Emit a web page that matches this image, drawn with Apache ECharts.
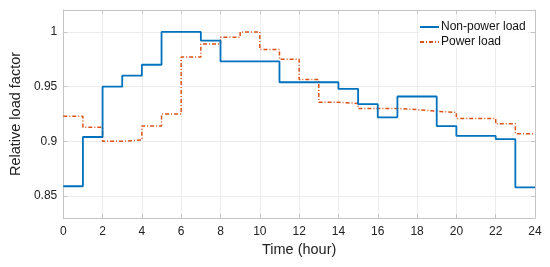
<!DOCTYPE html>
<html>
<head>
<meta charset="utf-8">
<script src="https://cdn.jsdelivr.net/npm/echarts@6/dist/echarts.min.js"></script>
<style>html,body{margin:0;padding:0;background:#fff}#c{width:550px;height:267px}</style>
</head>
<body>
<div id="c"></div>
<script>
var hours = [0,1,2,3,4,5,6,7,8,9,10,11,12,13,14,15,16,17,18,19,20,21,22,23,24];
var nonPowerLoad = [0.859,0.904,0.950,0.960,0.970,1.000,1.000,0.992,0.973,0.973,0.973,0.954,0.954,0.954,0.948,0.934,0.922,0.941,0.941,0.914,0.905,0.905,0.902,0.858];
var powerLoad = [0.923,0.913,0.900,0.9013,0.914,0.925,0.977,0.989,0.995,1.000,0.984,0.975,0.9565,0.9357,0.9347,0.930,0.930,0.929,0.9275,0.9265,0.921,0.921,0.916,0.907];
var xTicks = [0,2,4,6,8,10,12,14,16,18,20,22,24];
var seriesNames = ['Non-power load','Power load'];

function stepData(vals){
  return hours.map(function(h,i){ return [h, vals[Math.min(i, vals.length-1)]]; });
}
var font = 'Liberation Sans, Arial, Helvetica, sans-serif';
var axisGray = '#c4c4c4';
var gridGray = '#ececec';
var chart = echarts.init(document.getElementById('c'), null, {renderer:'canvas'});
var yCommon = {
  type:'value', min:0.83, max:1.02, splitNumber:4, minInterval:0.05, maxInterval:0.05
};
chart.setOption({
  animation:false,
  textStyle:{fontFamily:font},
  grid:{left:60, right:15, top:10, bottom:49, containLabel:false},
  legend:{
    data:seriesNames, orient:'vertical', left:419, top:21,
    itemWidth:19, itemHeight:12, itemGap:3,
    itemStyle:{color:'rgba(0,0,0,0)', borderColor:'rgba(0,0,0,0)', borderWidth:0, opacity:0},
    textStyle:{fontFamily:font, fontSize:12, color:'#111', padding:[0,0,0,-3]},
    backgroundColor:'rgba(255,255,255,0.9)', padding:[0,2,0,0]
  },
  xAxis:[{
    type:'value', min:xTicks[0], max:xTicks[xTicks.length-1], interval:2,
    name:'Time (hour)', nameLocation:'middle', nameGap:22,
    nameTextStyle:{fontSize:14.5, color:'#222', fontFamily:font},
    axisLine:{show:true, lineStyle:{color:axisGray, width:1}},
    axisTick:{show:true, inside:true, length:4, lineStyle:{color:axisGray}},
    axisLabel:{fontSize:12, color:'#222', margin:8, fontFamily:font},
    splitLine:{show:true, lineStyle:{color:gridGray, width:1}}
  },{
    type:'value', position:'top', min:0, max:24, interval:2,
    axisLine:{show:true, onZero:false, lineStyle:{color:axisGray}},
    axisTick:{show:true, inside:true, length:4, lineStyle:{color:axisGray}},
    axisLabel:{show:false}, splitLine:{show:false}
  }],
  yAxis:[Object.assign({}, yCommon, {
    name:'Relative load factor', nameLocation:'middle', nameGap:31,
    nameTextStyle:{fontSize:14.5, color:'#222', fontFamily:font},
    axisLine:{show:true, lineStyle:{color:axisGray}},
    axisTick:{show:true, inside:true, length:4, lineStyle:{color:axisGray}},
    axisLabel:{fontSize:12, color:'#222', margin:6, showMinLabel:false, showMaxLabel:false, fontFamily:font},
    splitLine:{show:true, lineStyle:{color:gridGray, width:1}}
  }), Object.assign({}, yCommon, {
    position:'right',
    axisLine:{show:true, onZero:false, lineStyle:{color:axisGray}},
    axisTick:{show:true, inside:true, length:4, lineStyle:{color:axisGray}},
    axisLabel:{show:false}, splitLine:{show:false}
  })],
  series:[{
    name:seriesNames[0], type:'line', step:'end', data:stepData(nonPowerLoad),
    symbol:'none', z:3,
    lineStyle:{color:'#0072BD', width:1.8}, itemStyle:{color:'#0072BD'}
  },{
    name:seriesNames[1], type:'line', step:'end', data:stepData(powerLoad),
    symbol:'none', z:2,
    lineStyle:{color:'#D95319', width:1.5, type:[4,2,1,2]}, itemStyle:{color:'#D95319'}
  }]
});
</script>
</body>
</html>
